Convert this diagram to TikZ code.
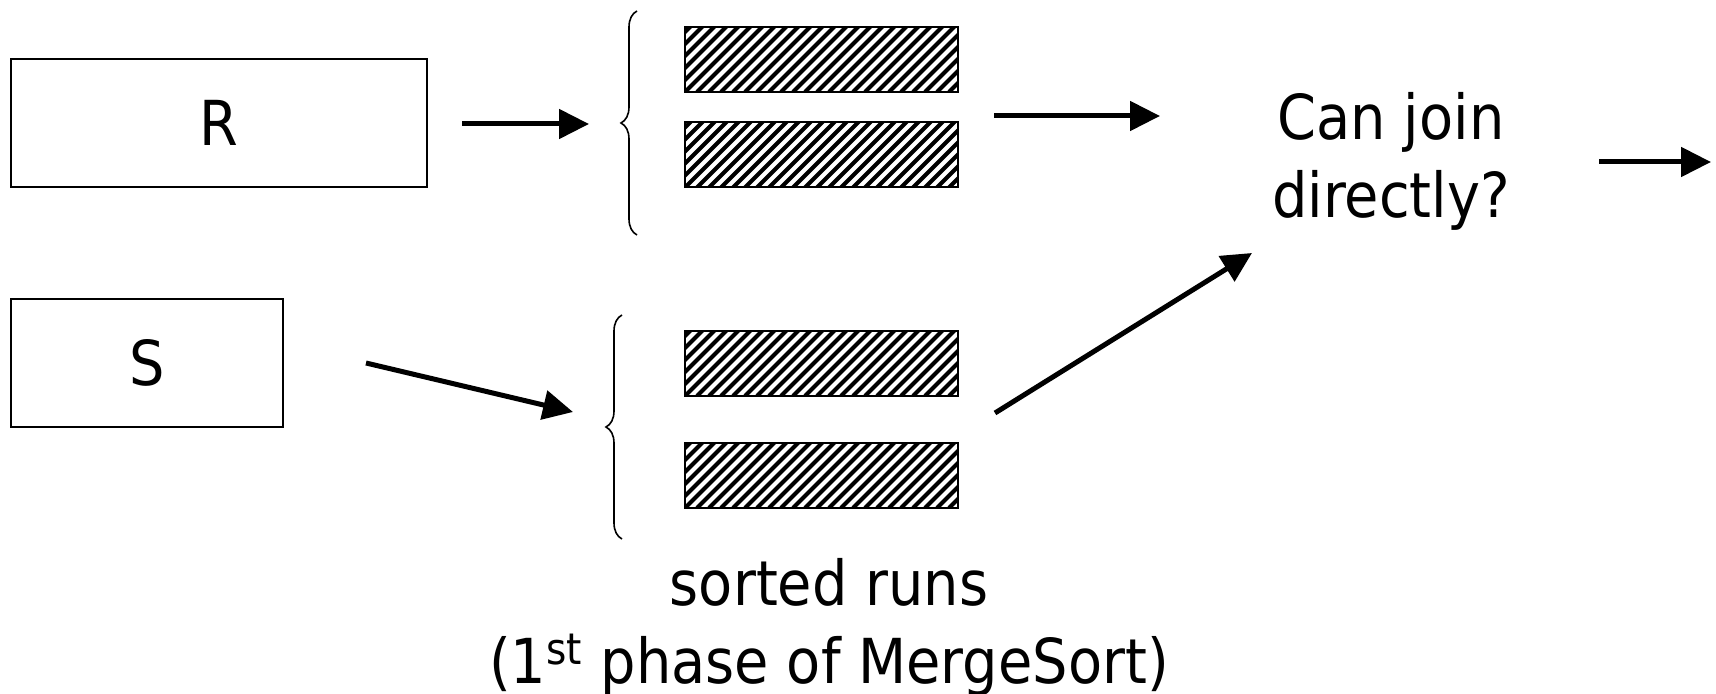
\documentclass[tikz,border=0pt]{standalone}
\usepackage{fontspec}
\setmainfont{DejaVu Sans}[FakeStretch=0.9]
\usetikzlibrary{arrows.meta,decorations.pathreplacing}
\begin{document}
\begin{tikzpicture}[x=0.5pt,y=-0.5pt,
  every node/.style={font=\fontsize{31pt}{39pt}\selectfont},
  relbox/.style={draw,line width=1pt,inner sep=0pt,minimum height=64pt},
  runbox/.style={draw,line width=1pt,inner sep=0pt,minimum width=136.5pt,minimum height=32.5pt,
    path picture={\foreach \k in {-7,...,24}
      \draw[line width=2pt] ([xshift=\k*6pt]path picture bounding box.south west) -- ++(40pt,40pt);}},
  arr/.style={line width=2.5pt,-{Triangle[length=15pt,width=14.5pt]}},
  bracestyle/.style={line width=0.8pt,decorate,decoration={brace,amplitude=8pt}},
  lbl/.style={anchor=base,inner sep=0pt,align=center}]
\useasboundingbox (0,0) rectangle (1716,694);
% relations
\node[relbox,minimum width=208pt] (R) at (219,123) {R};
\node[relbox,minimum width=136pt] (S) at (147,363) {S};
% sorted runs
\node[runbox] (r1) at (821.5,59.5) {};
\node[runbox] (r2) at (821.5,155) {};
\node[runbox] (s1) at (821.5,363.5) {};
\node[runbox] (s2) at (821.5,475.5) {};
% braces
\coordinate (bRb) at (637,235);
\coordinate (bRt) at (637,11);
\coordinate (bSb) at (622,539);
\coordinate (bSt) at (622,315);
\draw[bracestyle] (bRb) -- (bRt);
\draw[bracestyle] (bSb) -- (bSt);
% texts
\node[lbl] (join) at (1391,218) {Can join\\directly?};
\node[lbl] (sr) at (829,683) {sorted runs\\(1\textsuperscript{st} phase of MergeSort)};
% arrow end points
\coordinate (a1s) at (462,124); \coordinate (a1e) at (589,124);
\coordinate (a2s) at (994,116); \coordinate (a2e) at (1160,116);
\coordinate (a3s) at (1599,162); \coordinate (a3e) at (1711,162);
\coordinate (a4s) at (366,363); \coordinate (a4e) at (573,412);
\coordinate (a5s) at (995,413); \coordinate (a5e) at (1252,253);
\draw[arr] (a1s) -- (a1e);
\draw[arr] (a2s) -- (a2e);
\draw[arr] (a3s) -- (a3e);
\draw[arr] (a4s) -- (a4e);
\draw[arr] (a5s) -- (a5e);
\end{tikzpicture}
\end{document}
